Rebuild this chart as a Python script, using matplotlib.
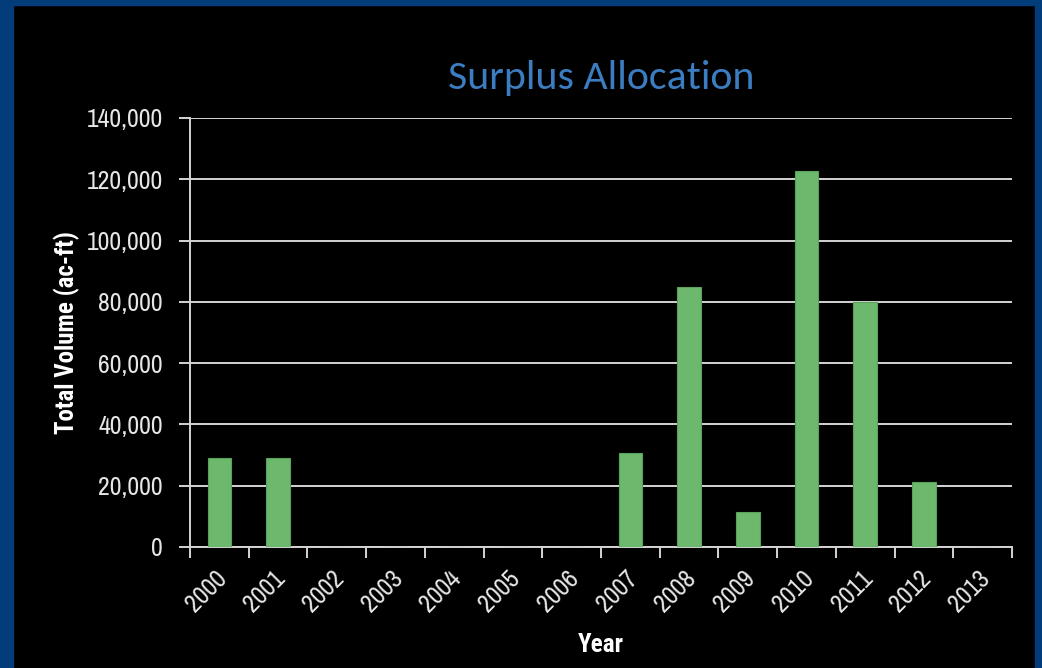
import matplotlib
matplotlib.use("Agg")
import matplotlib.pyplot as plt
import matplotlib.transforms as mtransforms
from matplotlib.patches import Rectangle
from matplotlib import font_manager
import numpy as np

years = ["2000", "2001", "2002", "2003", "2004", "2005", "2006",
         "2007", "2008", "2009", "2010", "2011", "2012", "2013"]
volumes = [28900, 28900, 0, 0, 0, 0, 0, 30600, 84900, 11500, 122800, 80100, 21200, 0]
y_ticks = [0, 20000, 40000, 60000, 80000, 100000, 120000, 140000]
title = "Surplus Allocation"
y_label = "Total Volume (ac-ft)"
x_label = "Year"

names = {f.name for f in font_manager.fontManager.ttflist}
bold_names = {f.name for f in font_manager.fontManager.ttflist
              if (f.weight if isinstance(f.weight, int) else 400) >= 700
              or f.weight == "bold"}

narrow_prefs = ["Arial Narrow", "Liberation Sans Narrow", "Nimbus Sans Narrow",
                "Archivo Narrow", "Roboto Condensed", "PT Sans Narrow"]


def pick(prefs, pool):
    for p in prefs:
        if p in pool:
            return p
    return "DejaVu Sans"


body = pick(narrow_prefs + ["Arimo", "Liberation Sans"], names)
body_bold = pick(narrow_prefs + ["Arimo", "Liberation Sans"], bold_names)
head = pick(["Carlito", "Calibri", "Open Sans"], names)
font = [body, "DejaVu Sans"]
bfont = [body_bold, "DejaVu Sans"]

W, H = 1042, 668
fig = plt.figure(figsize=(W / 100, H / 100), dpi=100, facecolor="black")
renderer = fig.canvas.get_renderer()


def fit(t, target, dim="w", lo=6, hi=40):
    # choose font size so that the text's extent matches the reference
    for _ in range(20):
        mid = (lo + hi) / 2
        t.set_fontsize(mid)
        bb = t.get_window_extent(renderer)
        v = bb.width if dim == "w" else bb.height
        if v > target:
            hi = mid
        else:
            lo = mid
    t.set_fontsize((lo + hi) / 2)
    return (lo + hi) / 2


border = "#023d79"
fig.patches.append(Rectangle((0, 0), 13 / W, 1, transform=fig.transFigure, color=border, zorder=0))
fig.patches.append(Rectangle((1 - 7 / W, 0), 7 / W, 1, transform=fig.transFigure, color=border, zorder=0))
fig.patches.append(Rectangle((0, 1 - 5 / H), 1, 5 / H, transform=fig.transFigure, color=border, zorder=0))

ax = fig.add_axes([190 / W, (H - 547) / H, (1012 - 190) / W, (547 - 118) / H])
ax.set_facecolor("black")

x = np.arange(len(years))
ax.bar(x, volumes, width=0.40, color="#6cb86c", edgecolor="#5ba35b", linewidth=0.8, zorder=3)

ax.set_xlim(-0.5, len(years) - 0.5)
ax.set_ylim(0, 140000)

grid_c = "#d4d4d4"
ax.set_yticks(y_ticks)
ax.set_yticklabels([f"{v:,}" for v in y_ticks])
ax.yaxis.grid(True, color=grid_c, linewidth=1.4, zorder=1)
ax.set_axisbelow(True)

for s in ["top", "right"]:
    ax.spines[s].set_visible(False)
for s in ["left", "bottom"]:
    ax.spines[s].set_color(grid_c)
    ax.spines[s].set_linewidth(1.4)

probe = fig.text(0, 0, "140,000", family=font)
tsz = fit(probe, 76, "w")
probe.remove()

ax.tick_params(axis="y", colors=grid_c, length=8, width=1.4, pad=11.5, labelsize=tsz)
for lab in ax.get_yticklabels():
    lab.set_family(font)
    lab.set_color("#e6e6e6")

ax.set_xticks(x)
ax.set_xticklabels(years, rotation=45, ha="right", va="top", rotation_mode="anchor",
                   fontsize=tsz, family=font, color="#e6e6e6")
ax.tick_params(axis="x", which="major", length=0, pad=14)
ax.set_xticks(np.arange(-0.5, len(years)), minor=True)
ax.tick_params(axis="x", which="minor", length=8, width=1.4, colors=grid_c)
offset = mtransforms.ScaledTranslation(-5 / 100, 0, fig.dpi_scale_trans)
for lab in ax.get_xticklabels():
    lab.set_transform(lab.get_transform() + offset)

yl = ax.set_ylabel(y_label, fontweight="bold", family=bfont, color="white")
fit(yl, 203, "h")
ax.yaxis.set_label_coords((67 - 190) / 822, 0.5)
yl.set_va("center")
yl.set_ha("center")

xl = ax.set_xlabel(x_label, fontweight="bold", family=bfont, color="white")
fit(xl, 46, "w")
ax.xaxis.set_label_coords(0.5, (547 - 645) / 429)
xl.set_va("center")

tt = fig.text(601 / W, 1 - 78 / H, title, ha="center", va="center",
              family=[head, "DejaVu Sans"], color="#3b7dc0")
fit(tt, 306, "w")

fig.savefig("out.png", dpi=100, facecolor="black")
